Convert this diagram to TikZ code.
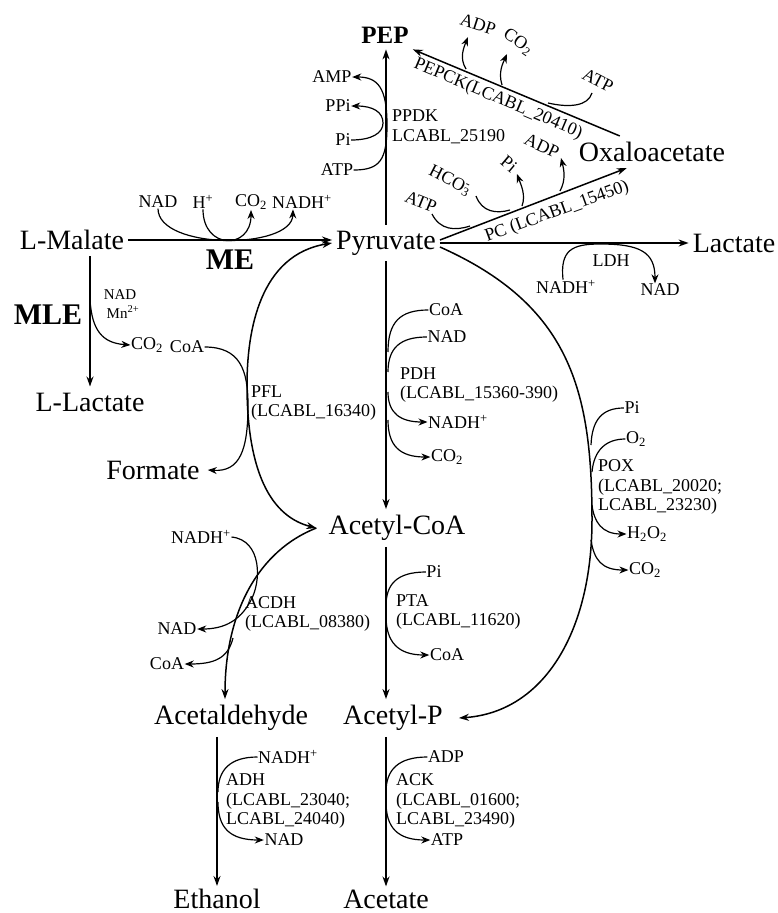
\documentclass[tikz,border=0pt]{standalone}
\usepackage{fontspec}
\setmainfont{Liberation Serif}
\usetikzlibrary{arrows.meta}

\begin{document}
\begin{tikzpicture}[x=1pt, y=-1pt,
  met/.style={font=\fontsize{28}{30}\selectfont, inner xsep=4pt, inner ysep=6pt},
  enz/.style={font=\bfseries\fontsize{30}{32}\selectfont, inner sep=1pt},
  cof/.style={font=\fontsize{18}{19}\selectfont, inner sep=0.5pt},
  gene/.style={font=\fontsize{18}{19.5}\selectfont, align=left, anchor=west, inner sep=0pt},
  flux/.style={line width=1.5pt, -{Stealth[length=10pt,width=7pt]}},
  flux2/.style={line width=1.5pt, {Stealth[length=10pt,width=7pt]}-{Stealth[length=10pt,width=7pt]}},
  cofline/.style={line width=1.2pt},
  cofarr/.style={line width=1.2pt, -{Stealth[length=9pt,width=7pt]}}]
\useasboundingbox (0,0) rectangle (778,913);

% metabolites
\node[met, font=\bfseries\fontsize{25}{28}\selectfont] (pep) at (385,35) {PEP};
\node[met] (pyr) at (386,243) {Pyruvate};
\node[met] (mal) at (72,240) {L-Malate};
\node[met] (lac) at (734,243) {Lactate};
\node[met] (oaa) at (652,152) {Oxaloacetate};
\node[met] (llac) at (90,402) {L-Lactate};
\node[met] (form) at (153,470) {Formate};
\node[met] (acoa) at (397,528) {Acetyl-CoA};
\node[met] (acald) at (231,718) {Acetaldehyde};
\node[met] (acp) at (393,718) {Acetyl-P};
\node[met, inner ysep=3pt] (eth) at (217,899) {Ethanol};
\node[met, inner ysep=3pt] (acet) at (386,899) {Acetate};
\node[enz] (me) at (230,260) {ME};
\node[enz] (mle) at (48,315) {MLE};

% main fluxes
\draw[flux] (pyr.north) -- (pyr.north |- pep.south);
\draw[flux] (mal.east) -- (mal.east -| pyr.west);
\draw[flux] (pyr.east) -- (pyr.east -| lac.west);
\draw[flux] ([yshift=3pt]pyr.east) -- ([xshift=52pt]oaa.south west);
\draw[flux] ([xshift=45pt]oaa.north west) -- (pep.south east);
\draw[flux] (pyr.south) -- (pyr.south |- acoa.north);
\draw[flux] (acoa.south -| acet.north) -- (acp.north -| acet.north);
\draw[flux] (acp.south -| acet.north) -- (acet.north);
\draw[flux] (acald.south -| eth.north) -- (eth.north);
\draw[flux] (llac.north |- mal.south) -- (llac.north);
\draw[flux] ([yshift=-4pt]pyr.east) .. controls (570,305) and (592,390) .. (592,520)
  .. controls (592,630) and (545,712) .. ([xshift=12pt]acp.east);
\draw[flux2] (pyr.west) .. controls (260,255) and (247,330) .. (247,385)
  .. controls (247,460) and (265,515) .. ([xshift=-8pt]acoa.west);
\draw[flux] ([xshift=-8pt]acoa.west) .. controls (260,550) and (225,610) .. ([xshift=-6pt]acald.north);

% ME
\node[cof] (menad) at (158,202) {NAD};
\node[cof] (meh) at (203,202) {H\textsuperscript{+}};
\node[cof] (meco) at (251,202) {CO\textsubscript{2}};
\node[cof] (menadh) at (302,202) {NADH\textsuperscript{+}};
\draw[cofarr] (menad.south) .. controls (158,250) and (292,250) .. ([xshift=-9pt]menadh.south);
\draw[cofarr] (meh.south) .. controls (203,250) and (251,250) .. (meco.south);

% MLE
\node[cof, font=\fontsize{15}{16}\selectfont] (mlnad) at (120,295) {NAD};
\node[cof, font=\fontsize{15}{16}\selectfont] (mlmn) at (123,312) {Mn\textsuperscript{2+}};
\node[cof] (mlco) at (147,345) {CO\textsubscript{2}};
\draw[cofarr] (90,300) .. controls (92,330) and (102,343) .. (mlco.west);

% PPDK
\node[cof] (ppamp) at (332,77) {AMP};
\node[cof] (ppppi) at (338,106) {PPi};
\node[cof] (pppi) at (343,140) {Pi};
\node[cof] (ppatp) at (337,170) {ATP};
\draw[cofarr] (ppatp.east) .. controls (380,170) and (387,160) .. (387,125)
  .. controls (387,88) and (378,77) .. (ppamp.east);
\draw[cofarr] (pppi.east) .. controls (372,140) and (383,133) .. (383,123)
  .. controls (383,112) and (373,106) .. (ppppi.east);
\node[gene] (ppdk) at (392,127) {PPDK\\LCABL\_25190};

% PEPCK
\node[cof, rotate=-18] (pkadp) at (478,24) {ADP};
\node[cof, rotate=-35] (pkco) at (518,42) {CO\textsubscript{2}};
\node[cof, rotate=-27] (pkatp) at (598,80) {ATP};
\node[gene, anchor=center, rotate=-23] (pepck) at (498,99) {PEPCK(LCABL\_20410)};
\draw[cofarr] (466,69) .. controls (459,58) and (464,47) .. (468,37);
\draw[cofarr] (502,85) .. controls (498,72) and (503,63) .. (507,54);
\draw[cofline] (592,93) .. controls (588,106) and (570,108) .. (548,103);

% PC
\node[cof, rotate=-22] (pcatp) at (421,202) {ATP};
\node[cof, rotate=-27] (pchco) at (450,181) {HCO\rlap{\textsuperscript{-}}\textsubscript{3}};
\node[cof, rotate=-40] (pcpi) at (509,164) {Pi};
\node[cof, rotate=-25] (pcadp) at (542,146) {ADP};
\node[gene, anchor=center, rotate=20] (pc) at (557,212) {PC (LCABL\_15450)};
\draw[cofline] (432,214) .. controls (440,230) and (455,231) .. (470,226);
\draw[cofline] (476,196) .. controls (482,212) and (496,214) .. (510,210);
\draw[cofarr] (522,206) .. controls (526,195) and (521,185) .. (517,174);
\draw[cofarr] (560,191) .. controls (566,180) and (564,170) .. (561,158);

% LDH
\node[cof] (ldnadh) at (566,287) {NADH\textsuperscript{+}};
\node[cof] (ldnad) at (660,290) {NAD};
\node[cof] (ldh) at (611,261) {LDH};
\draw[cofarr] ([xshift=-3pt]ldnadh.north) .. controls (560,250) and (572,244) .. (600,244)
  .. controls (640,244) and (655,252) .. ([xshift=-5pt]ldnad.north);

% PDH
\node[cof] (pdcoa) at (446,310) {CoA};
\node[cof] (pdnad) at (447,337) {NAD};
\node[gene] (pdh) at (400,385) {PDH\\(LCABL\_15360-390)};
\node[cof] (pdnadh) at (458,422) {NADH\textsuperscript{+}};
\node[cof] (pdco) at (447,457) {CO\textsubscript{2}};
\draw[cofline] (pdcoa.west) .. controls (400,310) and (388,322) .. (388,352);
\draw[cofline] (pdnad.west) .. controls (400,337) and (388,348) .. (388,372);
\draw[cofarr] (388,392) .. controls (388,413) and (400,422) .. (pdnadh.west);
\draw[cofarr] (388,420) .. controls (388,446) and (400,457) .. (pdco.west);

% PFL
\node[cof] (pfcoa) at (187,347) {CoA};
\node[gene] (pfl) at (251,403) {PFL\\(LCABL\_16340)};
\draw[cofarr] (pfcoa.east) .. controls (240,347) and (248,370) .. (248,405)
  .. controls (248,450) and (240,472) .. ([xshift=4pt]form.east);

% POX
\node[cof] (popi) at (632,408) {Pi};
\node[cof] (poo) at (636,439) {O\textsubscript{2}};
\node[gene] (pox) at (598,487) {POX\\(LCABL\_20020;\\LCABL\_23230)};
\node[cof] (poh) at (647,534) {H\textsubscript{2}O\textsubscript{2}};
\node[cof] (poco) at (645,570) {CO\textsubscript{2}};
\draw[cofline] (popi.west) .. controls (602,408) and (592,420) .. (591,445);
\draw[cofline] (poo.west) .. controls (606,439) and (594,450) .. (592,472);
\draw[cofarr] (592,505) .. controls (594,522) and (602,534) .. (poh.west);
\draw[cofarr] (591,540) .. controls (594,560) and (602,570) .. (poco.west);

% ACDH
\node[cof] (acnadh) at (201,537) {NADH\textsuperscript{+}};
\node[gene] (acdh) at (245,614) {ACDH\\(LCABL\_08380)};
\node[cof] (acnad) at (177,629) {NAD};
\node[cof] (accoa) at (167,664) {CoA};
\draw[cofarr] (acnadh.east) .. controls (262,540) and (262,582) .. (250,602)
  .. controls (240,620) and (225,629) .. (acnad.east);
\draw[cofarr] (233,638) .. controls (228,658) and (215,664) .. (accoa.east);

% PTA
\node[cof] (ptpi) at (434,572) {Pi};
\node[gene] (pta) at (396,612) {PTA\\(LCABL\_11620)};
\node[cof] (ptcoa) at (447,655) {CoA};
\draw[cofline] (ptpi.west) .. controls (396,572) and (386,585) .. (386,606);
\draw[cofarr] (386,616) .. controls (386,642) and (398,655) .. (ptcoa.west);

% ADH
\node[cof] (adnadh) at (288,757) {NADH\textsuperscript{+}};
\node[gene] (adh) at (226,801) {ADH\\(LCABL\_23040;\\LCABL\_24040)};
\node[cof] (adnad) at (284,840) {NAD};
\draw[cofline] (adnadh.west) .. controls (230,757) and (218,770) .. (218,792);
\draw[cofarr] (218,802) .. controls (218,828) and (230,840) .. (adnad.west);

% ACK
\node[cof] (ckadp) at (446,757) {ADP};
\node[gene] (ack) at (396,801) {ACK\\(LCABL\_01600;\\LCABL\_23490)};
\node[cof] (ckatp) at (447,840) {ATP};
\draw[cofline] (ckadp.west) .. controls (398,757) and (386,770) .. (386,792);
\draw[cofarr] (386,802) .. controls (386,828) and (398,840) .. (ckatp.west);
\end{tikzpicture}
\end{document}
